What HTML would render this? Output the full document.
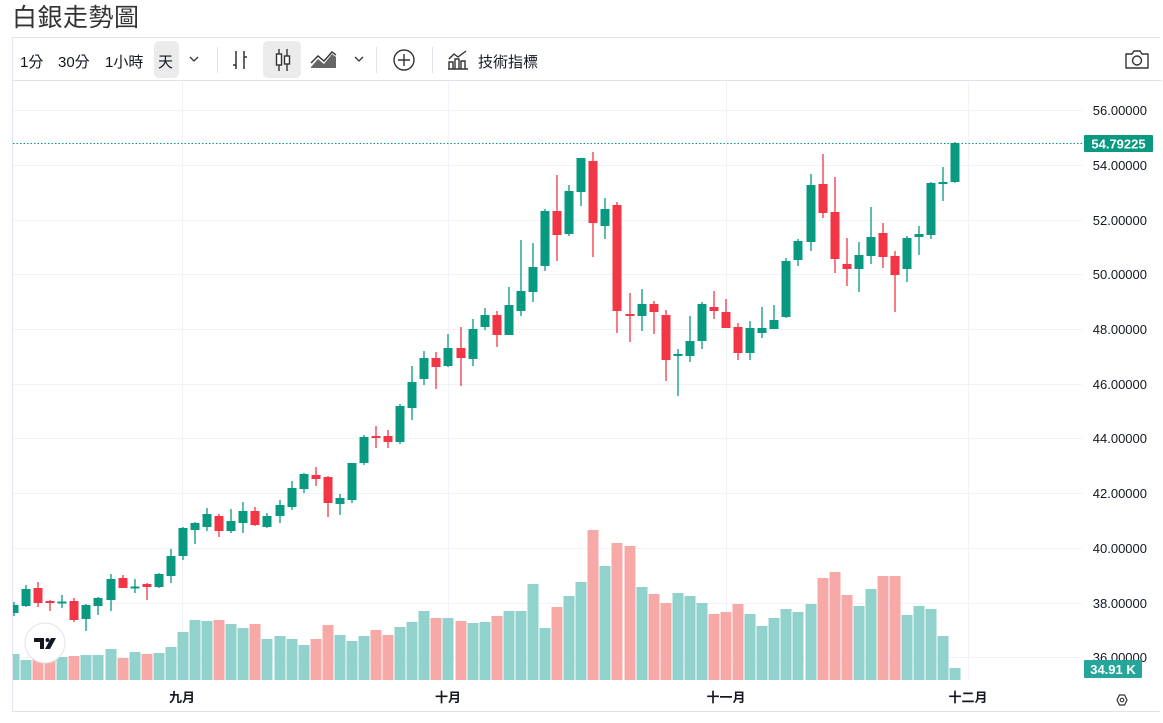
<!DOCTYPE html>
<html><head><meta charset="utf-8"><style>
*{margin:0;padding:0;box-sizing:border-box}
body{width:1163px;height:723px;background:#fff;overflow:hidden;position:relative;font-family:"Liberation Sans","Noto Sans CJK TC",sans-serif;color:#131722}
.title{position:absolute;left:12px;top:-2px;font-size:25px;color:#333;font-family:"Liberation Sans","Noto Sans CJK TC",sans-serif;letter-spacing:0.5px}
.frame{position:absolute;left:12px;top:37px;width:1148px;height:675px;border:1px solid #e0e3eb;border-right:none}
.tb{position:absolute;left:12px;top:38px;width:1150px;height:43px;border-bottom:1px solid #e0e3eb;font-size:15px}
.tb span{position:absolute;top:13px}
.hl{position:absolute;background:#ebebeb;border-radius:5px}
.sep{position:absolute;top:9px;width:1px;height:26px;background:#e0e3eb}
</style></head><body>
<div class="title">白銀走勢圖</div>
<div class="frame"></div>
<div class="tb">
<div class="hl" style="left:142px;top:3px;width:25px;height:37px"></div>
<div class="hl" style="left:251px;top:3px;width:38px;height:37px"></div>
<span style="left:8px">1分</span>
<span style="left:46px">30分</span>
<span style="left:93px">1小時</span>
<span style="left:146px">天</span>
<svg style="position:absolute;left:177px;top:17px" width="10" height="8"><path d="M1 2l4 4 4-4" stroke="#333" fill="none" stroke-width="1.3"/></svg>
<div class="sep" style="left:205px"></div>
<svg style="position:absolute;left:218px;top:11px" width="20" height="22"><path d="M6 2v18M3 16h3M14 2v18M14 8h3" stroke="#333" stroke-width="1.5" fill="none"/></svg>
<svg style="position:absolute;left:261px;top:10px" width="20" height="24"><path d="M6 1v22M14 1v22" stroke="#333" stroke-width="1.4"/><rect x="3.5" y="6" width="5" height="11" fill="#fff" stroke="#333" stroke-width="1.4"/><rect x="11.5" y="8" width="5" height="8" fill="#fff" stroke="#333" stroke-width="1.4"/></svg>
<svg style="position:absolute;left:298px;top:13px" width="28" height="18"><path d="M1 16L8 8l6 5 8-10 4 3V17H1z" fill="#666"/><path d="M1 12L8 5l6 5 8-9 4 3" stroke="#333" stroke-width="1.4" fill="none"/></svg>
<svg style="position:absolute;left:342px;top:17px" width="10" height="8"><path d="M1 2l4 4 4-4" stroke="#333" fill="none" stroke-width="1.3"/></svg>
<div class="sep" style="left:364px"></div>
<svg style="position:absolute;left:380px;top:10px" width="24" height="24"><circle cx="12" cy="12" r="10" stroke="#333" stroke-width="1.4" fill="none"/><path d="M12 6v12M6 12h12" stroke="#333" stroke-width="1.4"/></svg>
<div class="sep" style="left:420px"></div>
<svg style="position:absolute;left:435px;top:11px" width="22" height="22"><path d="M2 20V13h4v7M8 20V10h4v10M14 20V12h4v8M1 20h20M2 10l5-5 4 3 8-6" stroke="#333" stroke-width="1.4" fill="none"/></svg>
<span style="left:466px">技術指標</span>
<svg style="position:absolute;left:1112px;top:10px" width="26" height="22"><path d="M2 6h6l2-3h6l2 3h6v14H2z" stroke="#333" stroke-width="1.4" fill="none" stroke-linejoin="round"/><circle cx="13" cy="12.5" r="4.5" stroke="#333" stroke-width="1.4" fill="none"/></svg>
</div>
<svg style="position:absolute;left:0;top:0" width="1163" height="723">
<defs><clipPath id="c"><rect x="13" y="82" width="1070" height="598"/></clipPath></defs>
<g stroke="#f0f3fa" stroke-width="1">
<path d="M13 110.5H1082M13 165.5H1082M13 220.5H1082M13 274.5H1082M13 329.5H1082M13 384.5H1082M13 438.5H1082M13 493.5H1082M13 548.5H1082M13 603.5H1082M13 657.5H1082"/>
<path d="M182.5 82V680M448.5 82V680M726.5 82V680M968.5 82V680"/>
</g>
<g font-size="13" fill="#131722" text-anchor="end">
<text x="1147" y="115">56.00000</text><text x="1147" y="170">54.00000</text><text x="1147" y="225">52.00000</text><text x="1147" y="279">50.00000</text><text x="1147" y="334">48.00000</text><text x="1147" y="389">46.00000</text><text x="1147" y="443">44.00000</text><text x="1147" y="498">42.00000</text><text x="1147" y="553">40.00000</text><text x="1147" y="608">38.00000</text><text x="1147" y="662">36.00000</text>
</g>
<g clip-path="url(#c)">
<g fill="#92d2cc">
<rect x="8.5" y="654" width="11" height="26"/><rect x="20.5" y="660" width="11" height="20"/><rect x="56.5" y="657" width="11" height="23"/><rect x="80.5" y="655" width="11" height="25"/><rect x="92.5" y="655" width="11" height="25"/><rect x="105.5" y="649" width="11" height="31"/><rect x="129.5" y="652" width="11" height="28"/><rect x="153.5" y="653" width="11" height="27"/><rect x="165.5" y="647" width="11" height="33"/><rect x="177.5" y="632" width="11" height="48"/><rect x="189.5" y="620" width="11" height="60"/><rect x="201.5" y="621" width="11" height="59"/><rect x="225.5" y="624" width="11" height="56"/><rect x="237.5" y="628" width="11" height="52"/><rect x="261.5" y="639" width="11" height="41"/><rect x="274.5" y="636" width="11" height="44"/><rect x="286.5" y="639" width="11" height="41"/><rect x="298.5" y="645" width="11" height="35"/><rect x="334.5" y="635" width="11" height="45"/><rect x="346.5" y="641" width="11" height="39"/><rect x="358.5" y="636" width="11" height="44"/><rect x="394.5" y="627" width="11" height="53"/><rect x="406.5" y="622" width="11" height="58"/><rect x="418.5" y="611" width="11" height="69"/><rect x="442.5" y="618" width="11" height="62"/><rect x="467.5" y="623" width="11" height="57"/><rect x="479.5" y="622" width="11" height="58"/><rect x="503.5" y="611" width="11" height="69"/><rect x="515.5" y="611" width="11" height="69"/><rect x="527.5" y="584" width="11" height="96"/><rect x="539.5" y="628" width="11" height="52"/><rect x="563.5" y="596" width="11" height="84"/><rect x="575.5" y="582" width="11" height="98"/><rect x="599.5" y="566" width="11" height="114"/><rect x="636.5" y="587" width="11" height="93"/><rect x="672.5" y="593" width="11" height="87"/><rect x="684.5" y="596" width="11" height="84"/><rect x="696.5" y="603" width="11" height="77"/><rect x="744.5" y="614" width="11" height="66"/><rect x="756.5" y="626" width="11" height="54"/><rect x="768.5" y="618" width="11" height="62"/><rect x="780.5" y="609" width="11" height="71"/><rect x="792.5" y="612" width="11" height="68"/><rect x="805.5" y="604" width="11" height="76"/><rect x="853.5" y="606" width="11" height="74"/><rect x="865.5" y="589" width="11" height="91"/><rect x="901.5" y="615" width="11" height="65"/><rect x="913.5" y="606" width="11" height="74"/><rect x="925.5" y="609" width="11" height="71"/><rect x="937.5" y="636" width="11" height="44"/><rect x="949.5" y="668" width="11" height="12"/>
</g>
<g fill="#f7a9a7">
<rect x="32.5" y="656" width="11" height="24"/><rect x="44.5" y="656" width="11" height="24"/><rect x="68.5" y="656" width="11" height="24"/><rect x="117.5" y="658" width="11" height="22"/><rect x="141.5" y="654" width="11" height="26"/><rect x="213.5" y="620" width="11" height="60"/><rect x="249.5" y="624" width="11" height="56"/><rect x="310.5" y="639" width="11" height="41"/><rect x="322.5" y="625" width="11" height="55"/><rect x="370.5" y="630" width="11" height="50"/><rect x="382.5" y="635" width="11" height="45"/><rect x="430.5" y="618" width="11" height="62"/><rect x="455.5" y="621" width="11" height="59"/><rect x="491.5" y="616" width="11" height="64"/><rect x="551.5" y="607" width="11" height="73"/><rect x="587.5" y="530" width="11" height="150"/><rect x="611.5" y="543" width="11" height="137"/><rect x="624.5" y="546" width="11" height="134"/><rect x="648.5" y="594" width="11" height="86"/><rect x="660.5" y="603" width="11" height="77"/><rect x="708.5" y="614" width="11" height="66"/><rect x="720.5" y="612" width="11" height="68"/><rect x="732.5" y="604" width="11" height="76"/><rect x="817.5" y="578" width="11" height="102"/><rect x="829.5" y="572" width="11" height="108"/><rect x="841.5" y="595" width="11" height="85"/><rect x="877.5" y="576" width="11" height="104"/><rect x="889.5" y="576" width="11" height="104"/>
</g>
<path d="M13 143.5H1082" stroke="#089981" stroke-dasharray="1.5 2" stroke-width="1"/>
<g stroke="#089981" fill="#089981" stroke-width="1.3">
<path d="M14 602V616M26 585V607M62 595V608M86 604V631M98 597V615M111 574V611M135 579V593M159 573V588M171 549V583M183 527V560M195 522V544M207 508V531M231 509V533M243 502V533M267 513V528M280 500V523M292 481V510M304 473V493M340 494V515M352 463V503M364 435V465M400 404V444M412 366V420M424 351V385M448 334V367M473 319V366M485 308V330M509 287V335M521 240V316M533 243V302M545 209V271M569 185V236M581 158V206M605 198V239M642 289V331M678 349V396M690 316V362M702 302V349M750 321V360M762 307V338M774 305V329M786 258V318M798 239V266M811 174V251M859 242V292M871 207V264M907 236V282M919 226V255M931 182V239M943 167V201M955 142V183"/>
<g stroke="none">
<rect x="9.5" y="605" width="9" height="8"/><rect x="21.5" y="589" width="9" height="17"/><rect x="57.5" y="601.5" width="9" height="2"/><rect x="81.5" y="605" width="9" height="14"/><rect x="93.5" y="598" width="9" height="8"/><rect x="106.5" y="579" width="9" height="21"/><rect x="130.5" y="586.5" width="9" height="2"/><rect x="154.5" y="574" width="9" height="13"/><rect x="166.5" y="556" width="9" height="20"/><rect x="178.5" y="528" width="9" height="28"/><rect x="190.5" y="523" width="9" height="7"/><rect x="202.5" y="514" width="9" height="13"/><rect x="226.5" y="521" width="9" height="10"/><rect x="238.5" y="511" width="9" height="12"/><rect x="262.5" y="516" width="9" height="11"/><rect x="275.5" y="505" width="9" height="11"/><rect x="287.5" y="488" width="9" height="19"/><rect x="299.5" y="474" width="9" height="15"/><rect x="335.5" y="498" width="9" height="6"/><rect x="347.5" y="463" width="9" height="37"/><rect x="359.5" y="437" width="9" height="26"/><rect x="395.5" y="406" width="9" height="36"/><rect x="407.5" y="382" width="9" height="26"/><rect x="419.5" y="358" width="9" height="21"/><rect x="443.5" y="348" width="9" height="18"/><rect x="468.5" y="329" width="9" height="30"/><rect x="480.5" y="315" width="9" height="12"/><rect x="504.5" y="305" width="9" height="30"/><rect x="516.5" y="291" width="9" height="20"/><rect x="528.5" y="267" width="9" height="25"/><rect x="540.5" y="211" width="9" height="55"/><rect x="564.5" y="191" width="9" height="43"/><rect x="576.5" y="158" width="9" height="34"/><rect x="600.5" y="209" width="9" height="17"/><rect x="637.5" y="304" width="9" height="12"/><rect x="673.5" y="354" width="9" height="2"/><rect x="685.5" y="341" width="9" height="15"/><rect x="697.5" y="304" width="9" height="37"/><rect x="745.5" y="328" width="9" height="25"/><rect x="757.5" y="328" width="9" height="5"/><rect x="769.5" y="320" width="9" height="9"/><rect x="781.5" y="261" width="9" height="56"/><rect x="793.5" y="241" width="9" height="19"/><rect x="806.5" y="185" width="9" height="57"/><rect x="854.5" y="255" width="9" height="14"/><rect x="866.5" y="237" width="9" height="19"/><rect x="902.5" y="238" width="9" height="31"/><rect x="914.5" y="234" width="9" height="3"/><rect x="926.5" y="183" width="9" height="52"/><rect x="938.5" y="182" width="9" height="2"/><rect x="950.5" y="143" width="9" height="39"/>
</g></g>
<g stroke="#f23645" fill="#f23645" stroke-width="1.3">
<path d="M38 582V607M50 600V611M74 598V622M123 575V588M147 583V600M219 514V537M255 507V526M316 467V486M328 476V517M376 426V448M388 430V448M436 352V389M461 327V386M497 311V347M557 175V261M593 152V257M617 202V333M630 293V342M654 301V334M666 310V381M714 291V319M726 299V328M738 323V360M823 154V218M835 177V273M847 238V286M883 223V268M895 251V312"/>
<g stroke="none">
<rect x="33.5" y="588" width="9" height="15"/><rect x="45.5" y="601" width="9" height="2"/><rect x="69.5" y="601" width="9" height="19"/><rect x="118.5" y="578" width="9" height="10"/><rect x="142.5" y="584" width="9" height="3"/><rect x="214.5" y="516" width="9" height="15"/><rect x="250.5" y="511" width="9" height="14"/><rect x="311.5" y="475" width="9" height="4"/><rect x="323.5" y="477" width="9" height="26"/><rect x="371.5" y="436" width="9" height="2"/><rect x="383.5" y="436" width="9" height="6"/><rect x="431.5" y="358" width="9" height="9"/><rect x="456.5" y="348" width="9" height="10"/><rect x="492.5" y="315" width="9" height="20"/><rect x="552.5" y="211" width="9" height="24"/><rect x="588.5" y="161" width="9" height="62"/><rect x="612.5" y="205" width="9" height="106"/><rect x="625.5" y="314" width="9" height="2"/><rect x="649.5" y="304" width="9" height="8"/><rect x="661.5" y="315" width="9" height="45"/><rect x="709.5" y="307" width="9" height="4"/><rect x="721.5" y="312" width="9" height="16"/><rect x="733.5" y="327" width="9" height="26"/><rect x="818.5" y="184" width="9" height="29"/><rect x="830.5" y="212" width="9" height="47"/><rect x="842.5" y="264" width="9" height="5"/><rect x="878.5" y="233" width="9" height="24"/><rect x="890.5" y="256" width="9" height="19"/>
</g></g>
</g>
<rect x="1084" y="135" width="69" height="17" rx="1" fill="#089981"/>
<text x="1118.5" y="148.5" font-size="13" fill="#fff" text-anchor="middle" font-weight="bold">54.79225</text>
<rect x="1084" y="660" width="58" height="18" rx="1" fill="#26a69a"/>
<text x="1113" y="674" font-size="13" fill="#fff" text-anchor="middle" font-weight="bold">34.91 K</text>
<circle cx="45" cy="643" r="20" fill="#fff" stroke="#e0e3eb"/>
<path d="M34 638h10v11h-4v-7h-6z" fill="#131722"/><circle cx="47.5" cy="640" r="2" fill="#131722"/><path d="M51 638h5l-6 11h-5z" fill="#131722"/>
<g font-size="13" fill="#131722" text-anchor="middle" font-weight="bold">
<text x="182" y="702">九月</text><text x="448" y="702">十月</text><text x="726" y="702">十一月</text><text x="968" y="702">十二月</text>
</g>
<path d="M1118 696.5l4-2.5h5l4 2.5v0l-2 3.5 2 3.5-4 2.5h-5l-4-2.5 -2-3.5z" stroke="none" fill="none"/>
<path d="M1117 700l2.5-5h5l2.5 5-2.5 5h-5z" stroke="#333" stroke-width="1.2" fill="none" transform="translate(0,0)"/>
<circle cx="1122" cy="700" r="1.8" stroke="#333" stroke-width="1.1" fill="none"/>
</svg>
</body></html>
